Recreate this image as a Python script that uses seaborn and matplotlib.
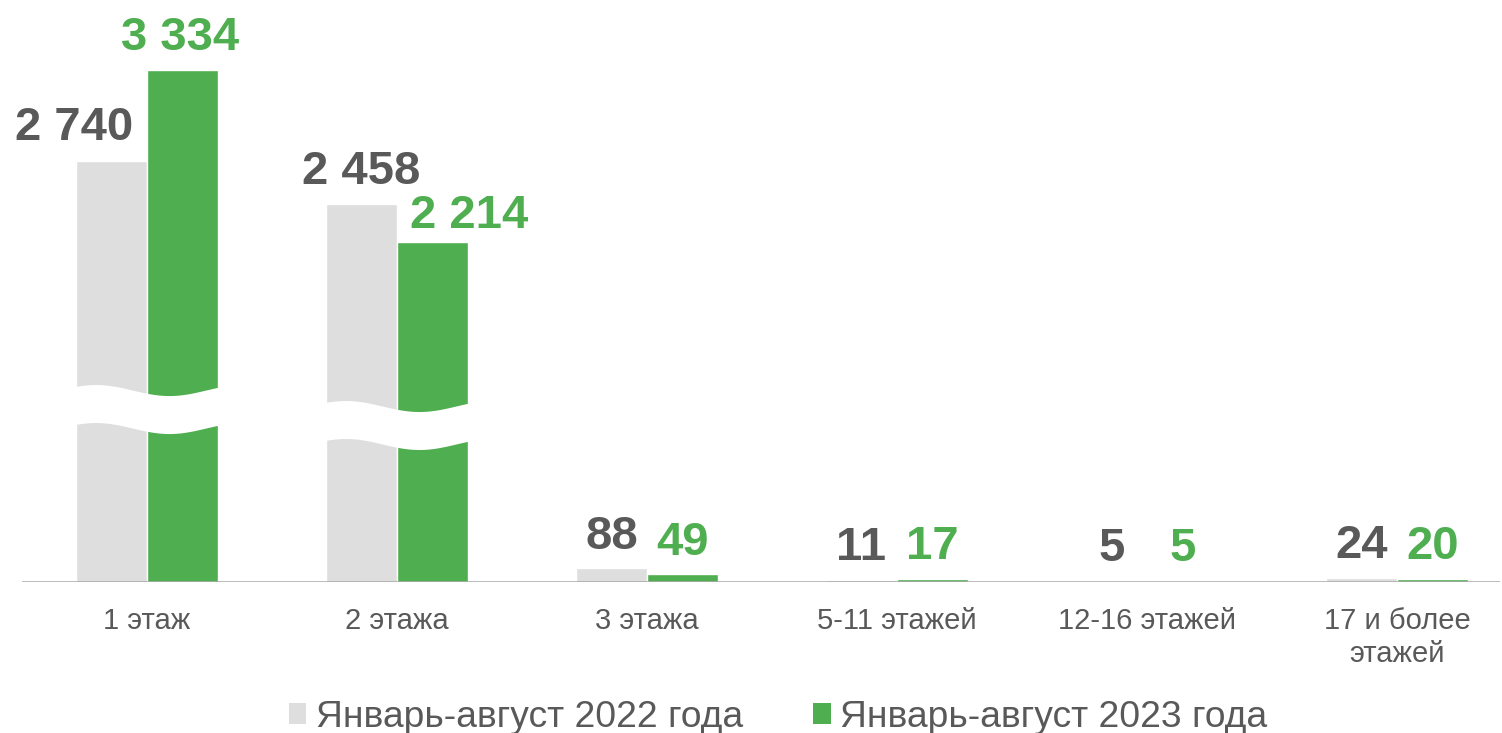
import numpy as np
import pandas as pd
import matplotlib
matplotlib.use("Agg")
import matplotlib.pyplot as plt
import seaborn as sns
from matplotlib.patches import Patch

categories = ["1 этаж", "2 этажа", "3 этажа", "5-11 этажей", "12-16 этажей", "17 и более\nэтажей"]
series_names = ["Январь-август 2022 года", "Январь-август 2023 года"]
values_2022 = [2740, 2458, 88, 11, 5, 24]
values_2023 = [3334, 2214, 49, 17, 5, 20]
labels_2022 = ["2 740", "2 458", "88", "11", "5", "24"]
labels_2023 = ["3 334", "2 214", "49", "17", "5", "20"]

GRAY = "#DEDEDE"
GREEN = "#4FAE50"
DARK = "#595959"

df = pd.DataFrame({
    "cat": categories * 2,
    "series": [series_names[0]] * len(categories) + [series_names[1]] * len(categories),
    "value": values_2022 + values_2023,
})

sns.set_theme(style="white")
plt.rcParams["font.family"] = ["Liberation Sans", "DejaVu Sans"]

fig = plt.figure(figsize=(15.02, 7.33), dpi=100)
W, H = 1502, 733
ax = fig.add_axes([22 / W, 151 / H, (1500 - 22) / W, 582 / H])

sns.barplot(data=df, x="cat", y="value", hue="series", order=categories,
            hue_order=series_names, palette=[GRAY, GREEN], width=0.568,
            gap=0, saturation=1, ax=ax, legend=False, zorder=2)

px_per_unit = 0.1536
ax.set_ylim(0, 582 / px_per_unit)
ax.set_xlim(-0.5, 5.5 - 22 / 250)

for s in ax.spines.values():
    s.set_visible(False)
ax.axhline(0, color="#A6A6A6", lw=1.8, zorder=3)
ax.set_yticks([])
ax.set_xlabel("")
ax.set_ylabel("")
ax.tick_params(axis="x", length=0, pad=18, labelsize=21, labelcolor=DARK)
for t in ax.get_xticklabels():
    t.set_linespacing(1.25)

# value labels
half = 0.568 / 4
shift_2022 = [-37, 0, 0, 0, 0, 0]
shift_2023 = [-2, 37, 0, 0, 0, 0]
gap_2022 = [21, 20, 19, 20, 20, 20]
gap_2023 = [20, 14, 19, 20, 20, 20]
for i in range(len(categories)):
    ax.annotate(labels_2022[i], (i - half, values_2022[i]),
                xytext=(shift_2022[i], gap_2022[i]), textcoords="offset pixels",
                ha="center", va="baseline", fontsize=34, fontweight="bold",
                color=DARK, zorder=5)
    ax.annotate(labels_2023[i], (i + half, values_2023[i]),
                xytext=(shift_2023[i], gap_2023[i]), textcoords="offset pixels",
                ha="center", va="baseline", fontsize=34, fontweight="bold",
                color=GREEN, zorder=5)

# decorative axis-break bands on the two tall groups
band_centers = [1126, 1022]
band_half = 19 / px_per_unit
band_amp = 5.5 / px_per_unit
for gi, c in enumerate(band_centers):
    x0, x1 = gi - 0.284 - 0.01, gi + 0.284 + 0.01
    xs = np.linspace(x0, x1, 200)
    t = (xs - x0) / (x1 - x0)
    mid = c + band_amp * np.cos(2 * np.pi * (t - 0.15))
    ax.fill_between(xs, mid - band_half, mid + band_half, color="white",
                    lw=0, zorder=4)

handles = [Patch(facecolor=GRAY, edgecolor="none"), Patch(facecolor=GREEN, edgecolor="none")]
fig.legend(handles, series_names, loc="lower center", ncol=2, frameon=False,
           bbox_to_anchor=(0.518, -0.048), fontsize=26.8, handlelength=0.47,
           handleheight=0.47, handletextpad=0.25, columnspacing=1.9,
           labelcolor=DARK)

fig.savefig("out.png", dpi=100)
